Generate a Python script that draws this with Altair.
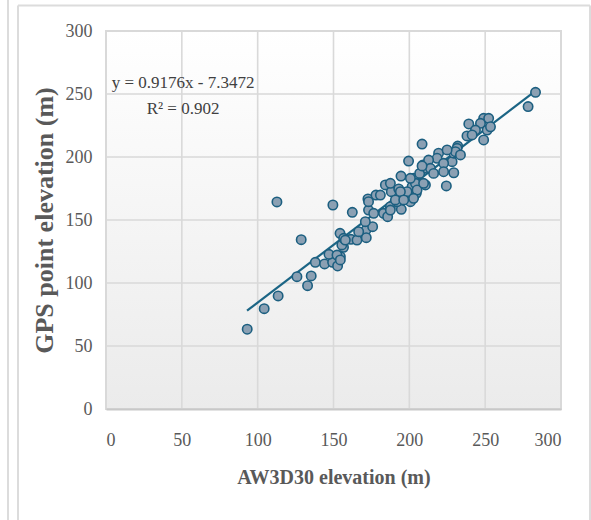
import altair as alt
import pandas as pd

# AW3D30 elevation (x) and GPS point elevation (y)
aw3d30 = [93.1, 104.3, 113.5, 112.7, 128.7, 125.9, 135.3, 132.9, 138.0, 144.1,
          149.4, 152.7, 147.0, 154.3, 149.6, 154.5, 156.6, 162.4, 161.5, 165.5,
          171.4, 171.6, 175.8, 173.1, 172.7, 178.0, 176.5, 184.2, 188.1, 183.0,
          185.7, 187.5, 193.0, 194.5, 194.1, 194.7, 200.7, 199.5, 202.8, 201.8,
          206.8, 209.0, 211.7, 210.6, 204.6, 208.4, 224.4, 231.9, 238.0, 228.2,
          229.3, 219.3, 218.3, 222.6, 212.7, 213.9, 229.3, 283.2, 278.3, 239.2,
          249.0, 252.3, 246.9, 251.3, 243.6, 241.4, 249.0, 253.5, 231.5, 230.4,
          155.5, 156.7, 152.3, 154.5, 208.4, 204.0, 198.5, 191.9, 187.5, 180.9,
          173.1, 171.0, 166.6, 157.8, 187.5, 194.1, 200.7, 205.1, 190.8, 196.3,
          202.8, 209.4, 216.0, 222.6, 233.7, 224.9]
gps = [63.3, 79.6, 89.7, 164.3, 134.4, 105.0, 105.6, 97.9, 116.4, 115.1,
       116.4, 113.5, 122.8, 139.4, 161.9, 120.9, 128.3, 156.1, 134.7, 134.1,
       142.0, 136.0, 144.7, 157.9, 166.7, 169.8, 155.3, 177.8, 172.5, 155.3,
       152.6, 160.6, 174.6, 184.9, 164.5, 158.5, 164.5, 196.8, 183.1, 176.4,
       187.0, 193.7, 191.0, 177.8, 171.2, 210.3, 177.0, 208.7, 216.7, 196.3,
       203.0, 203.0, 199.0, 195.0, 197.6, 191.0, 187.5, 251.3, 240.0, 226.2,
       230.7, 230.7, 226.7, 221.4, 221.4, 217.5, 213.5, 224.0, 206.9, 204.2,
       130.2, 135.5, 122.2, 118.3, 192.9, 179.1, 172.5, 164.5, 157.9, 169.8,
       164.5, 148.7, 140.7, 134.1, 179.1, 172.5, 183.1, 173.8, 165.9, 165.9,
       167.2, 179.1, 187.0, 188.3, 201.6, 205.6]

x_ticks = [0, 50, 100, 150, 200, 250, 300]
y_ticks = [0, 50, 100, 150, 200, 250, 300]
slope = 0.9176
intercept = -7.3472
fit_x = [93, 283]
equation = "y = 0.9176x - 7.3472"
r2_text = "R² = 0.902"

FONT = "Liberation Serif"
GRID = "#d9d9d9"

pts = pd.DataFrame({"aw": aw3d30, "gps": gps})
fit = pd.DataFrame({"aw": fit_x})
frame = pd.DataFrame({"x0": [x_ticks[0]], "x1": [x_ticks[-1]],
                      "y0": [y_ticks[0]], "y1": [y_ticks[-1]]})
vgrid = pd.DataFrame({"v": x_ticks[1:-1]})
hgrid = pd.DataFrame({"v": y_ticks[1:-1]})
notes = pd.DataFrame({"tx": [50.8, 50.8], "ty": [258.5, 238.0],
                      "label": [equation, r2_text]})

xs = alt.Scale(domain=[0, 300], nice=False, zero=False)
ys = alt.Scale(domain=[0, 300], nice=False, zero=False)

x_axis = alt.Axis(title="AW3D30 elevation (m)", values=x_ticks, grid=False,
                  ticks=False, domain=True, domainColor="#c8c8c8", domainWidth=2,
                  labelPadding=22, titleFontSize=20, titlePadding=18, zindex=1)
y_axis = alt.Axis(title="GPS point elevation (m)", values=y_ticks, grid=False,
                  ticks=False, domain=False,
                  labelPadding=14, titleFontSize=26, titlePadding=8, zindex=1)

bg = alt.Chart(frame).mark_rect(
    color=alt.Gradient(gradient="linear",
                       stops=[alt.GradientStop(color="#ffffff", offset=0),
                              alt.GradientStop(color="#ebebeb", offset=1)],
                       x1=0, x2=0, y1=0, y2=1),
    stroke=GRID, strokeWidth=2,
).encode(
    x=alt.X("x0:Q", scale=xs, axis=x_axis), x2="x1:Q",
    y=alt.Y("y0:Q", scale=ys, axis=y_axis), y2="y1:Q",
)

vg = alt.Chart(vgrid).mark_rule(color=GRID, strokeWidth=1.6).encode(
    x=alt.X("v:Q", scale=xs, axis=x_axis))
hg = alt.Chart(hgrid).mark_rule(color=GRID, strokeWidth=1.6).encode(
    y=alt.Y("v:Q", scale=ys, axis=y_axis))

points = alt.Chart(pts).mark_circle(
    size=88, color="#8ba0b3", opacity=1, stroke="#1c5f80", strokeWidth=1.6
).encode(
    x=alt.X("aw:Q", scale=xs, axis=x_axis),
    y=alt.Y("gps:Q", scale=ys, axis=y_axis),
)

line = alt.Chart(fit).transform_calculate(
    fy=f"{slope} * datum.aw + ({intercept})"
).mark_line(color="#1b6585", strokeWidth=2.2).encode(
    x=alt.X("aw:Q", scale=xs, axis=x_axis),
    y=alt.Y("fy:Q", scale=ys, axis=y_axis),
)

text = alt.Chart(notes).mark_text(
    font=FONT, fontSize=17, color="#404040", baseline="middle", align="center"
).encode(
    x=alt.X("tx:Q", scale=xs, axis=x_axis),
    y=alt.Y("ty:Q", scale=ys, axis=y_axis),
    text="label:N",
)

# screenshot frame lines (decoration)
frame_col = "#dcdcdc"
f1 = alt.Chart(frame).mark_rule(color=frame_col, strokeWidth=2).encode(
    x=alt.value(-88), y=alt.value(-25.5), y2=alt.value(500))
f2 = alt.Chart(frame).mark_rule(color=frame_col, strokeWidth=2).encode(
    x=alt.value(-98), y=alt.value(-40), y2=alt.value(500))
f3 = alt.Chart(frame).mark_rule(color=frame_col, strokeWidth=2).encode(
    x=alt.value(-88), x2=alt.value(484), y=alt.value(-25.5))
f4 = alt.Chart(frame).mark_rule(color=frame_col, strokeWidth=2).encode(
    x=alt.value(484), y=alt.value(-25.5), y2=alt.value(500))

chart = alt.layer(bg, vg, hg, line, points, text, f1, f2, f3, f4).properties(
    width=455, height=378,
    autosize=alt.AutoSizeParams(type="none"),
    padding={"left": 106, "top": 31, "right": 30, "bottom": 111},
    background="#ffffff",
).configure_view(stroke=None).configure_axis(
    labelFont=FONT, labelFontSize=18, labelColor="#595959",
    titleFont=FONT, titleFontWeight="bold", titleColor="#595959",
)

chart.save("out.html", embed_options={"renderer": "svg", "actions": False})
